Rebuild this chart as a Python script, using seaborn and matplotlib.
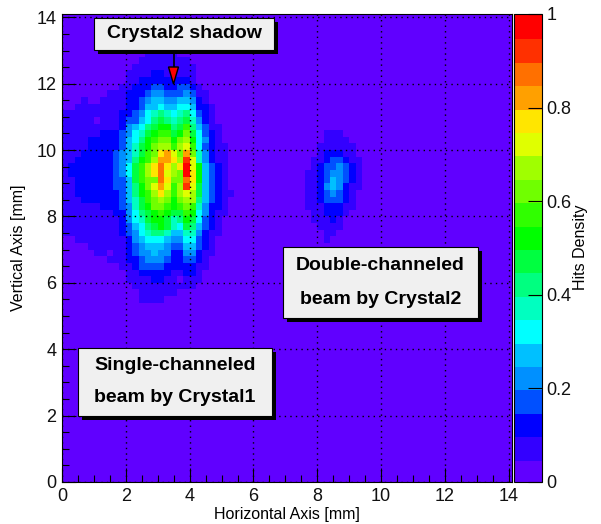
import numpy as np
import pandas as pd
import matplotlib
matplotlib.use("Agg")
import matplotlib.pyplot as plt
from matplotlib.colors import ListedColormap
from matplotlib.patches import Rectangle, Polygon
from matplotlib.lines import Line2D
from matplotlib.ticker import FixedLocator
import seaborn as sns

plt.rcParams["font.family"] = ["Liberation Sans", "DejaVu Sans"]

palette = ['#6000ff', '#3300ff', '#0000ff', '#0050ff', '#0090ff', '#00c0ff', '#00ffff',
           '#00ffc0', '#00ff80', '#00ff40', '#00ff00', '#30ff00', '#70ff00', '#a0ff00',
           '#e0ff00', '#ffe600', '#ffa000', '#ff7000', '#ff3000', '#ff0000']

bin_width = 0.2
n_bins = 71
level_width = 0.05

# colour levels, top row first, bins of 0.2 mm
main_blob_top = 12.8
main_blob_left = 0.0
main_blob = [
    [0,0,0,0,0,0,0,0,0,0,0,0,0,1,1,1,1,1,0,0,0,0,0,0,0,0,0],
    [0,0,0,0,0,0,0,0,0,0,0,0,1,1,1,1,1,1,1,1,0,0,0,0,0,0,0],
    [0,0,0,0,0,0,0,0,0,0,0,1,1,1,1,1,1,1,1,1,1,0,0,0,0,0,0],
    [0,0,0,0,0,0,0,0,0,0,1,1,1,1,2,2,1,1,1,1,1,0,0,0,0,0,0],
    [0,0,0,0,0,0,0,0,0,0,1,1,2,2,2,2,2,2,2,2,1,0,0,0,0,0,0],
    [0,0,0,0,0,0,0,0,0,1,1,2,2,2,3,3,2,2,3,3,2,1,0,0,0,0,0],
    [0,0,0,0,0,0,0,1,1,1,2,2,2,3,4,4,3,3,3,4,3,1,1,0,0,0,0],
    [0,0,0,1,0,0,1,1,1,1,2,2,3,4,5,5,4,4,5,5,4,2,1,0,0,0,0],
    [0,0,1,1,1,1,1,1,1,1,2,2,3,5,5,6,5,5,6,6,5,2,2,1,0,0,0],
    [1,1,1,1,1,1,1,1,1,2,2,3,4,6,7,8,7,6,7,8,6,3,2,1,0,0,0],
    [1,1,1,1,1,0,1,1,1,2,3,3,5,6,8,9,8,7,8,9,7,4,2,1,0,0,0],
    [1,1,1,1,1,1,1,1,1,2,4,5,6,8,9,10,10,8,9,11,8,5,3,1,1,0,0],
    [1,1,1,1,1,1,2,2,2,3,4,6,7,9,10,11,11,9,10,12,9,6,3,2,1,0,0],
    [1,1,1,1,2,2,2,2,2,3,5,6,8,10,11,12,12,10,12,13,10,6,4,2,1,0,0],
    [1,1,1,1,2,2,2,2,2,3,5,7,9,10,12,13,13,11,13,14,11,6,3,2,1,1,0],
    [1,1,1,2,2,2,2,2,3,4,5,7,9,11,12,15,16,14,12,16,12,7,4,2,1,1,0],
    [1,1,2,2,2,2,2,2,3,4,5,8,10,11,13,16,16,15,13,18,14,7,4,2,1,1,0],
    [1,2,2,2,2,2,2,2,3,4,6,9,11,13,15,17,15,13,15,19,14,10,5,3,2,1,0],
    [1,2,2,2,2,2,2,2,3,4,6,9,11,13,15,17,14,13,12,19,15,10,5,3,2,1,0],
    [1,1,2,2,2,2,2,2,3,3,5,9,11,12,12,17,15,12,12,17,15,10,5,3,2,1,0],
    [1,1,2,2,2,2,2,2,3,3,5,8,10,12,14,16,14,11,13,18,14,9,5,3,2,1,0],
    [1,1,2,2,2,2,2,2,2,3,5,8,10,11,13,15,13,11,13,14,13,9,5,3,2,1,1],
    [1,1,1,2,2,2,2,2,2,3,5,7,9,11,12,13,12,10,12,13,13,8,5,3,2,1,0],
    [1,1,1,1,1,1,2,2,2,3,4,7,9,10,12,12,11,10,11,12,11,7,4,2,2,1,0],
    [1,1,1,1,1,1,1,1,2,2,4,6,8,9,10,11,10,9,9,11,10,6,4,2,1,1,0],
    [1,1,1,1,1,1,1,1,1,2,4,6,7,9,10,10,9,7,8,10,9,6,3,2,1,0,0],
    [1,1,1,1,1,1,1,1,1,2,3,5,6,8,9,10,9,7,6,9,8,5,3,2,1,0,0],
    [1,1,1,1,1,1,1,1,1,2,3,4,6,7,8,8,7,5,5,7,7,4,2,1,1,0,0],
    [0,0,1,1,1,1,1,1,1,1,2,4,5,6,6,6,5,4,4,6,6,3,2,1,0,0,0],
    [0,0,0,0,1,1,1,1,1,1,2,3,4,5,5,5,4,3,3,5,5,3,2,1,0,0,0],
    [0,0,0,0,0,1,1,0,1,1,2,3,4,4,5,4,4,2,2,4,4,2,1,1,0,0,0],
    [0,0,0,0,0,0,0,1,1,1,2,2,3,4,4,4,3,2,2,3,3,2,1,0,0,0,0],
    [0,0,0,0,0,0,0,0,0,1,1,2,3,3,3,3,2,2,2,2,2,1,1,0,0,0,0],
    [0,0,0,0,0,0,0,0,0,0,1,1,2,2,2,2,2,1,1,2,2,1,0,0,0,0,0],
    [0,0,0,0,0,0,0,0,0,0,1,1,1,1,2,2,1,1,0,1,1,1,0,0,0,0,0],
    [0,0,0,0,0,0,0,0,0,0,0,1,1,1,1,1,1,1,1,1,1,0,0,0,0,0,0],
    [0,0,0,0,0,0,0,0,0,0,0,0,1,1,1,1,1,1,0,0,0,0,0,0,0,0,0],
    [0,0,0,0,0,0,0,0,0,0,0,0,1,1,1,1,0,0,0,0,0,0,0,0,0,0,0],
]

second_blob_top = 10.4
second_blob_left = 7.4
second_blob = [
    [0,0,0,0,1,1,1,0,0,0,0],
    [0,0,0,0,1,1,1,1,0,0,0],
    [0,0,0,1,1,1,1,1,1,0,0],
    [0,0,0,1,2,2,2,1,1,0,0],
    [0,0,1,1,2,3,3,2,1,1,0],
    [0,0,1,2,3,3,4,3,2,1,0],
    [0,1,1,2,3,4,4,3,2,1,0],
    [0,1,1,2,3,5,4,3,2,1,0],
    [0,1,1,2,4,5,4,2,1,1,0],
    [0,1,1,2,3,4,3,2,1,0,0],
    [0,1,1,2,3,3,3,2,1,0,0],
    [0,1,1,1,2,2,2,1,1,0,0],
    [0,0,1,1,2,2,2,1,0,0,0],
    [0,0,1,1,1,2,1,0,0,0,0],
    [0,0,0,1,1,1,1,0,0,0,0],
    [0,0,0,0,1,1,0,0,0,0,0],
    [0,0,0,0,1,0,0,0,0,0,0],
]

x_ticks = [0, 2, 4, 6, 8, 10, 12, 14]
y_ticks = [0, 2, 4, 6, 8, 10, 12, 14]
minor_ticks = [0.5, 1, 1.5, 2.5, 3, 3.5, 4.5, 5, 5.5, 6.5, 7, 7.5, 8.5, 9, 9.5,
               10.5, 11, 11.5, 12.5, 13, 13.5]
cbar_ticks = [0, 0.2, 0.4, 0.6, 0.8, 1]
cbar_tick_labels = ['0', '0.2', '0.4', '0.6', '0.8', '1']
axis_limit = 14.1

W, H = 601, 524


def fill_levels(grid, blob, top, left):
    # copy a block of levels into the big grid, row 0 of grid is y=0
    top_row = int(round(top / bin_width))
    left_col = int(round(left / bin_width))
    for i, row in enumerate(blob):
        for j, level in enumerate(row):
            grid[top_row - i, left_col + j] = level


def px_axes(fig, x0, y0, x1, y1):
    # pixel box, y measured from the top of the image
    return fig.add_axes([x0 / W, 1 - y1 / H, (x1 - x0) / W, (y1 - y0) / H])


def add_label_box(fig, x0, y0, x1, y1, lines, line_ys):
    shadow = Rectangle((x0 + 4, y0 + 4), x1 - x0, y1 - y0, facecolor='black', edgecolor='black',
                       linewidth=0, transform=pixel_trans, zorder=10)
    box = Rectangle((x0, y0), x1 - x0, y1 - y0, facecolor='#f0f0f0', edgecolor='black',
                    linewidth=0.8, transform=pixel_trans, zorder=11)
    fig.add_artist(shadow)
    fig.add_artist(box)
    for line, ly in zip(lines, line_ys):
        fig.text((x0 + x1) / 2 / W, 1 - ly / H, line, ha='center', va='center', fontsize=14,
                 fontweight='bold', color='black', zorder=12)


levels = np.zeros((n_bins, n_bins), dtype=int)
fill_levels(levels, main_blob, main_blob_top, main_blob_left)
fill_levels(levels, second_blob, second_blob_top, second_blob_left)
df = pd.DataFrame((levels + 0.5) * level_width)

fig = plt.figure(figsize=(W / 100, H / 100), dpi=100)
ax = px_axes(fig, 62, 14, 512, 482)
cax = px_axes(fig, 514, 14, 542, 482)

sns.heatmap(df, ax=ax, cbar_ax=cax, cmap=ListedColormap(palette), vmin=0, vmax=1,
            xticklabels=False, yticklabels=False)

# the heatmap axes run in bin numbers, so ticks are converted from mm
ax.set_xlim(0, axis_limit / bin_width)
ax.set_ylim(0, axis_limit / bin_width)
ax.set_xticks([t / bin_width for t in x_ticks], labels=[str(t) for t in x_ticks])
ax.set_yticks([t / bin_width for t in y_ticks], labels=[str(t) for t in y_ticks])
ax.set_xticks([t / bin_width for t in minor_ticks], minor=True)
ax.set_yticks([t / bin_width for t in minor_ticks], minor=True)
ax.tick_params(which='major', direction='in', length=10, width=0.8, labelsize=13, pad=3,
               colors='black', labelcolor='#111111', top=False, right=False)
ax.tick_params(which='minor', direction='in', length=5, width=0.8, top=False, right=False)
ax.tick_params(axis='x', which='major', labelrotation=0, pad=4)
ax.tick_params(axis='y', which='major', labelrotation=0, pad=4)
ax.grid(True, which='major', color='black', linestyle=(0, (1, 3)), linewidth=1.0)
ax.set_axisbelow(False)
for spine in ax.spines.values():
    spine.set_visible(True)
    spine.set_color('black')
    spine.set_linewidth(0.8)
ax.set_xlabel('')
ax.set_ylabel('')

cbar = ax.collections[0].colorbar
cbar.outline.set_visible(True)
cbar.outline.set_edgecolor('black')
cbar.outline.set_linewidth(0.8)
cbar.solids.set_edgecolor('face')
cbar.set_ticks(cbar_ticks, labels=cbar_tick_labels)
cax.yaxis.set_minor_locator(FixedLocator([]))
cax.tick_params(axis='y', direction='in', length=10, width=0.8, labelsize=13, pad=3,
                labelcolor='#111111', right=True, left=False)

fig.text(287 / W, 1 - 514 / H, 'Horizontal Axis [mm]', ha='center', va='center', fontsize=11.5)
fig.text(19 / W, 1 - 248 / H, 'Vertical Axis [mm]', ha='center', va='center', rotation=90, fontsize=11.5)
fig.text(581 / W, 1 - 247 / H, 'Hits Density', ha='center', va='center', rotation=90, fontsize=11.5)

# pixel transform, origin at the top left of the image
from matplotlib.transforms import Affine2D
pixel_trans = Affine2D().scale(1, -1).translate(0, H)

add_label_box(fig, 94, 18, 274, 50, ['Crystal2 shadow'], [34])
add_label_box(fig, 283, 247, 478, 318, ['Double-channeled', 'beam by Crystal2'], [266, 299])
add_label_box(fig, 78, 348, 272, 416, ['Single-channeled', 'beam by Crystal1'], [365, 398])

# arrow from the shadow label down to the gap
fig.add_artist(Line2D([173.5, 173.5], [54, 67], color='black', linewidth=1.2, transform=pixel_trans, zorder=9))
fig.add_artist(Polygon([[168.5, 67], [178.5, 67], [173.5, 84]], closed=True, facecolor='#ff0000',
                       edgecolor='black', linewidth=1.0, transform=pixel_trans, zorder=9))

fig.savefig('out.png', dpi=100)
